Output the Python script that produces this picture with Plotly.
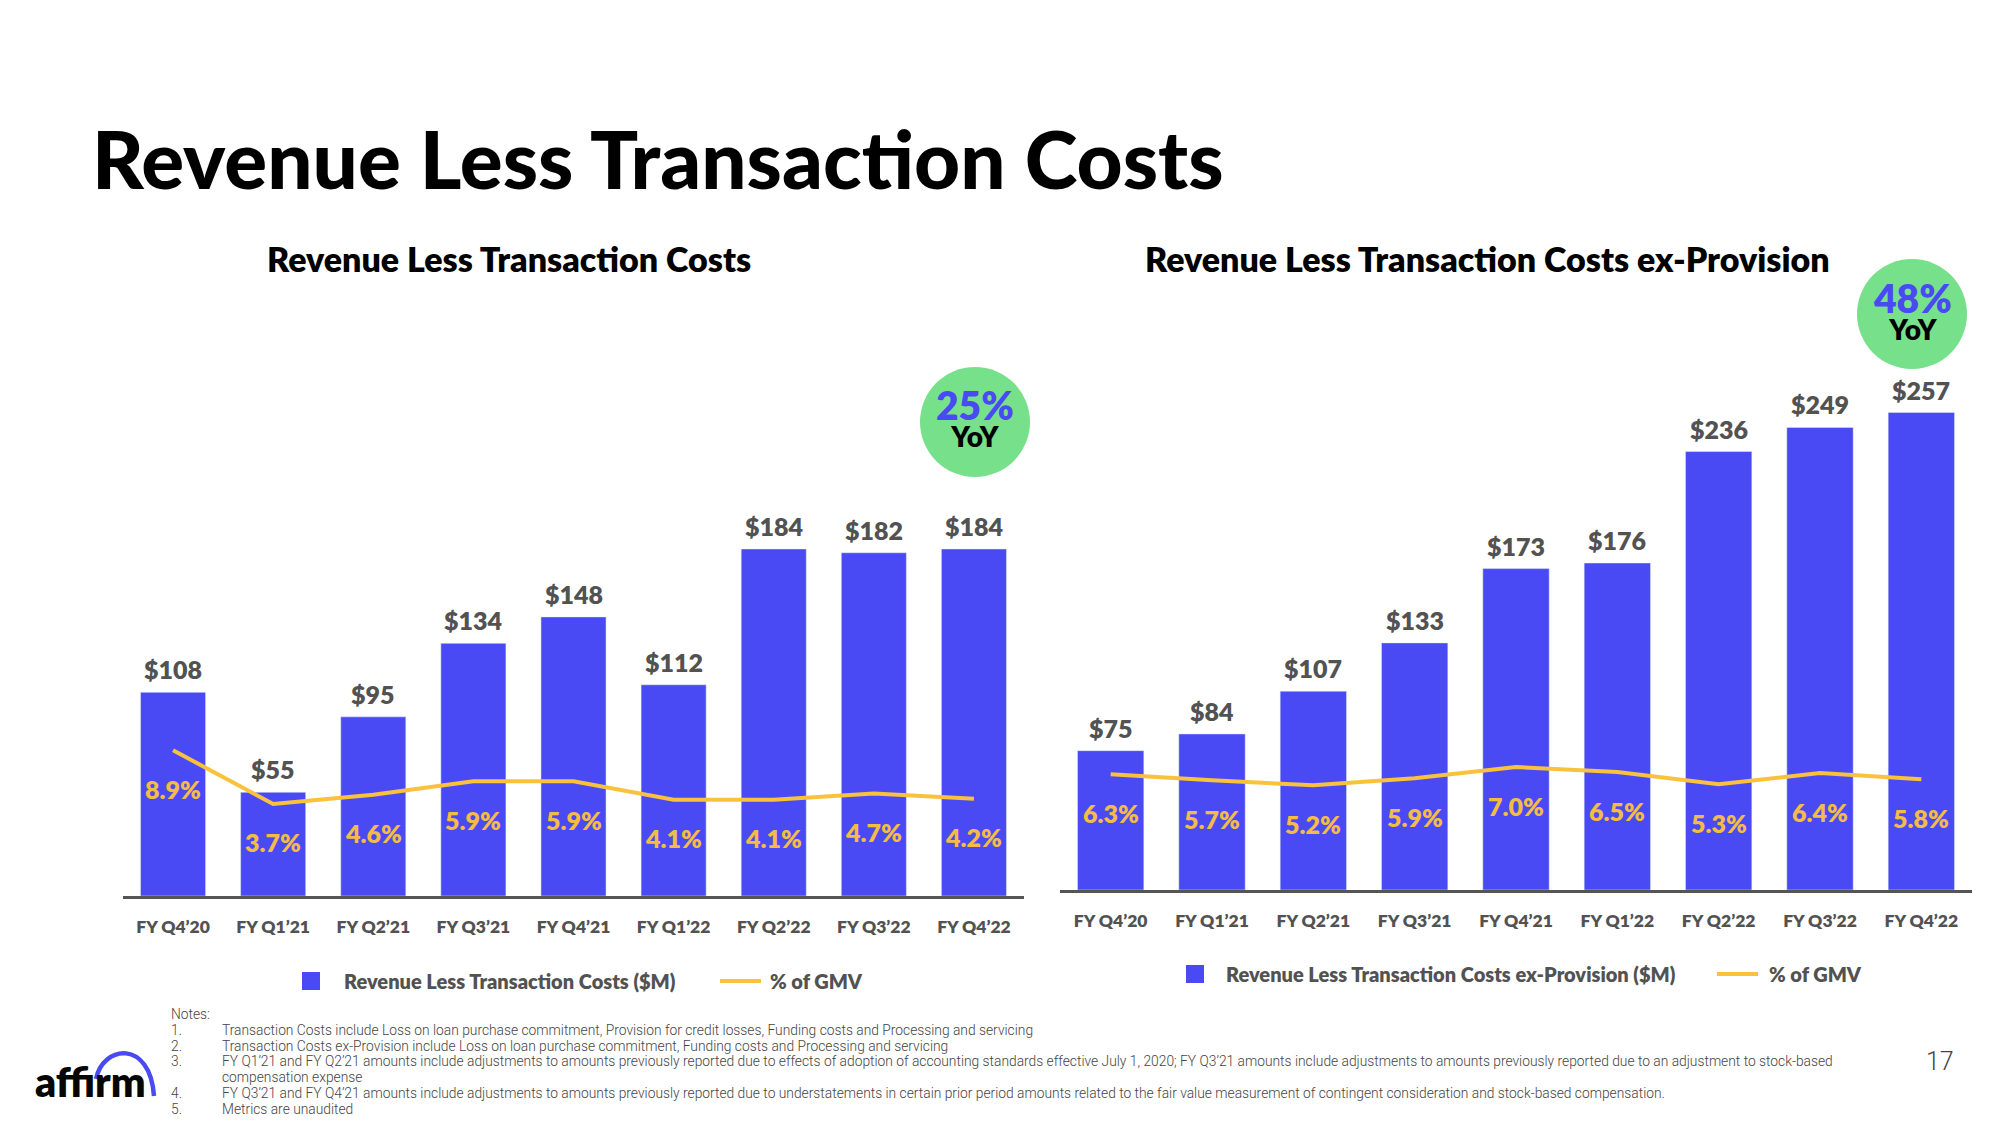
import plotly.graph_objects as go

W, H = 2000, 1125

# ---------------- data ----------------
quarters = ["FY Q4’20", "FY Q1’21", "FY Q2’21", "FY Q3’21", "FY Q4’21",
            "FY Q1’22", "FY Q2’22", "FY Q3’22", "FY Q4’22"]
rltc = [108, 55, 95, 134, 148, 112, 184, 182, 184]
rltc_pct = [8.9, 3.7, 4.6, 5.9, 5.9, 4.1, 4.1, 4.7, 4.2]
rltc_ex = [75, 84, 107, 133, 173, 176, 236, 249, 257]
rltc_ex_pct = [6.3, 5.7, 5.2, 5.9, 7.0, 6.5, 5.3, 6.4, 5.8]

main_title = "Revenue Less Transaction Costs"
left_title = "Revenue Less Transaction Costs"
right_title = "Revenue Less Transaction Costs ex-Provision"
left_bar_name = "Revenue Less Transaction Costs ($M)"
right_bar_name = "Revenue Less Transaction Costs ex-Provision ($M)"
line_name = "% of GMV"
left_yoy = "25%"
right_yoy = "48%"
notes = [
    ("1.", "Transaction Costs include Loss on loan purchase commitment, Provision for credit losses, Funding costs and Processing and servicing"),
    ("2.", "Transaction Costs ex-Provision include Loss on loan purchase commitment, Funding costs and Processing and servicing"),
    ("3.", "FY Q1’21 and FY Q2’21 amounts include adjustments to amounts previously reported due to effects of adoption of accounting standards effective July 1, 2020; FY Q3’21 amounts include adjustments to amounts previously reported due to an adjustment to stock-based"),
    ("", "compensation expense"),
    ("4.", "FY Q3’21 and FY Q4’21 amounts include adjustments to amounts previously reported due to understatements in certain prior period amounts related to the fair value measurement of contingent consideration and stock-based compensation."),
    ("5.", "Metrics are unaudited"),
]

# ---------------- style ----------------
BLUE = "#4A4AF4"
YELLOW = "#F9C23C"
YELLOW_TXT = "#F5BC45"
GRAY = "#525252"
GREEN = "#77E08B"
BOLD = "Lato, 'Open Sans', sans-serif"
LIGHT = "Roboto, 'Liberation Sans', sans-serif"
NOTE_SIZE = 13.8


def px(x):
    return x / W


def py(y):
    return 1 - y / H


fig = go.Figure()

# left chart
fig.add_trace(go.Bar(x=quarters, y=rltc, name=left_bar_name, marker_color=BLUE,
                     width=0.65, xaxis="x", yaxis="y", showlegend=False, hoverinfo="skip"))
fig.add_trace(go.Scatter(x=quarters, y=rltc_pct, name=line_name, mode="lines",
                         line=dict(color=YELLOW, width=4), xaxis="x", yaxis="y2",
                         showlegend=False, hoverinfo="skip"))
# right chart
fig.add_trace(go.Bar(x=quarters, y=rltc_ex, name=right_bar_name, marker_color=BLUE,
                     width=0.655, xaxis="x2", yaxis="y3", showlegend=False, hoverinfo="skip"))
fig.add_trace(go.Scatter(x=quarters, y=rltc_ex_pct, name=line_name, mode="lines",
                         line=dict(color=YELLOW, width=4), xaxis="x2", yaxis="y4",
                         showlegend=False, hoverinfo="skip"))

annotations = []
shapes = []

# value labels above bars & pct labels under the line
for xa, ya, ya2, vals, pcts in (("x", "y", "y2", rltc, rltc_pct),
                                 ("x2", "y3", "y4", rltc_ex, rltc_ex_pct)):
    for q, v, p in zip(quarters, vals, pcts):
        annotations.append(dict(x=q, y=v, xref=xa, yref=ya, text=f"${v}", showarrow=False,
                                yshift=23, yanchor="middle", xanchor="center",
                                font=dict(family=BOLD, size=25, color=GRAY, weight=800)))
        annotations.append(dict(x=q, y=p, xref=xa, yref=ya2, text=f"{p:.1f}%", showarrow=False,
                                yshift=-38.5, yanchor="middle", xanchor="center",
                                font=dict(family=BOLD, size=25, color=YELLOW_TXT, weight=800)))

# titles
annotations.append(dict(x=px(90), y=py(158), xref="paper", yref="paper", xanchor="left",
                        yanchor="middle", text=main_title, showarrow=False,
                        font=dict(family=BOLD, size=80, color="#000000", weight=900)))
annotations.append(dict(x=px(509), y=py(258), xref="paper", yref="paper", xanchor="center",
                        yanchor="middle", text=left_title, showarrow=False,
                        font=dict(family=BOLD, size=34, color="#000000", weight=800)))
annotations.append(dict(x=px(1487), y=py(258), xref="paper", yref="paper", xanchor="center",
                        yanchor="middle", text=right_title, showarrow=False,
                        font=dict(family=BOLD, size=34, color="#000000", weight=800)))

# YoY bubbles
for cx, cy, r, txt in ((975, 422, 55, left_yoy), (1912, 314, 55, right_yoy)):
    shapes.append(dict(type="circle", xref="paper", yref="paper",
                       x0=px(cx - r), x1=px(cx + r), y0=py(cy + r), y1=py(cy - r),
                       fillcolor=GREEN, line=dict(width=0), layer="below"))
    bubble_txt = (f"<span style='font-size:39px;color:{BLUE}'>{txt}</span><br>"
                  f"<span style='font-size:28px;color:#000000'>YoY</span>")
    annotations.append(dict(x=px(cx), y=py(cy - 4), xref="paper", yref="paper",
                            text=bubble_txt, showarrow=False, yanchor="middle",
                            xanchor="center", align="center",
                            font=dict(family=BOLD, size=21, color="#000000", weight=800)))

# legends (drawn manually)
for sq_x, sq_y, txt_x, txt, ln_x, ln_t in ((302, 981, 342, left_bar_name, 720, 768),
                                          (1186, 974, 1224, right_bar_name, 1717, 1767)):
    shapes.append(dict(type="rect", xref="paper", yref="paper",
                       x0=px(sq_x), x1=px(sq_x + 18), y0=py(sq_y + 9), y1=py(sq_y - 9),
                       fillcolor=BLUE, line=dict(width=0)))
    annotations.append(dict(x=px(txt_x), y=py(sq_y), xref="paper", yref="paper",
                            xanchor="left", yanchor="middle", text=txt, showarrow=False,
                            font=dict(family=BOLD, size=20, color=GRAY, weight=800)))
    shapes.append(dict(type="line", xref="paper", yref="paper",
                       x0=px(ln_x), x1=px(ln_x + 41), y0=py(sq_y), y1=py(sq_y),
                       line=dict(color=YELLOW, width=4)))
    annotations.append(dict(x=px(ln_t), y=py(sq_y), xref="paper", yref="paper",
                            xanchor="left", yanchor="middle", text=line_name, showarrow=False,
                            font=dict(family=BOLD, size=20, color=GRAY, weight=800)))

# notes
annotations.append(dict(x=px(169), y=py(1014), xref="paper", yref="paper", xanchor="left",
                        yanchor="middle", text="Notes:", showarrow=False,
                        font=dict(family=LIGHT, size=NOTE_SIZE, color="#444444", weight=300)))
note_ys = [1030, 1046, 1061, 1077, 1093, 1109]
for (num, txt), ny in zip(notes, note_ys):
    if num:
        annotations.append(dict(x=px(169), y=py(ny), xref="paper", yref="paper", xanchor="left",
                                yanchor="middle", text=num, showarrow=False,
                                font=dict(family=LIGHT, size=NOTE_SIZE, color="#444444", weight=300)))
    annotations.append(dict(x=px(220), y=py(ny), xref="paper", yref="paper", xanchor="left",
                            yanchor="middle", text=txt, showarrow=False,
                            font=dict(family=LIGHT, size=NOTE_SIZE, color="#444444", weight=300)))

# page number
annotations.append(dict(x=px(1940), y=py(1061), xref="paper", yref="paper", text="17",
                        showarrow=False, yanchor="middle", xanchor="center",
                        font=dict(family=LIGHT, size=25, color="#444444", weight=300)))

# logo
annotations.append(dict(x=px(33), y=py(1081), xref="paper", yref="paper", xanchor="left",
                        yanchor="middle", text="affirm", showarrow=False,
                        font=dict(family=BOLD, size=41, color="#060606", weight=800)))
pts = [(96, 1079), (103, 1045), (150, 1039), (154, 1096)]
pp = [(px(a), py(b)) for a, b in pts]
path = "M {:.5f},{:.5f} C {:.5f},{:.5f} {:.5f},{:.5f} {:.5f},{:.5f}".format(
    pp[0][0], pp[0][1], pp[1][0], pp[1][1], pp[2][0], pp[2][1], pp[3][0], pp[3][1])
shapes.append(dict(type="path", xref="paper", yref="paper", path=path,
                   line=dict(color=BLUE, width=4.5)))

xaxis_common = dict(type="category", range=[-0.5, 8.5], showline=True, linecolor="#555555",
                    linewidth=3, showgrid=False, zeroline=False, ticks="",
                    ticklabelstandoff=13,
                    tickfont=dict(family=BOLD, size=17.5, color=GRAY, weight=800),
                    fixedrange=True)
yaxis_common = dict(visible=False, showgrid=False, zeroline=False, fixedrange=True)

fig.update_layout(
    width=W, height=H,
    margin=dict(l=0, r=0, t=0, b=0),
    paper_bgcolor="white", plot_bgcolor="rgba(0,0,0,0)",
    xaxis=dict(domain=[px(123), px(1024)], anchor="y", **xaxis_common),
    yaxis=dict(domain=[py(896), py(400)], range=[0, 263.0], anchor="x", **yaxis_common),
    yaxis2=dict(overlaying="y", range=[-5.22, 42.84], anchor="x", **yaxis_common),
    xaxis2=dict(domain=[px(1060), px(1972)], anchor="y3", **xaxis_common),
    yaxis3=dict(domain=[py(890), py(380)], range=[0, 274.5], anchor="x2", **yaxis_common),
    yaxis4=dict(overlaying="y3", range=[-5.07, 44.98], anchor="x2", **yaxis_common),
    annotations=annotations,
    shapes=shapes,
    showlegend=False,
    hovermode=False,
)

fig.write_html("out.html", config={"displayModeBar": False},
               post_script="document.body.style.margin='0';")
